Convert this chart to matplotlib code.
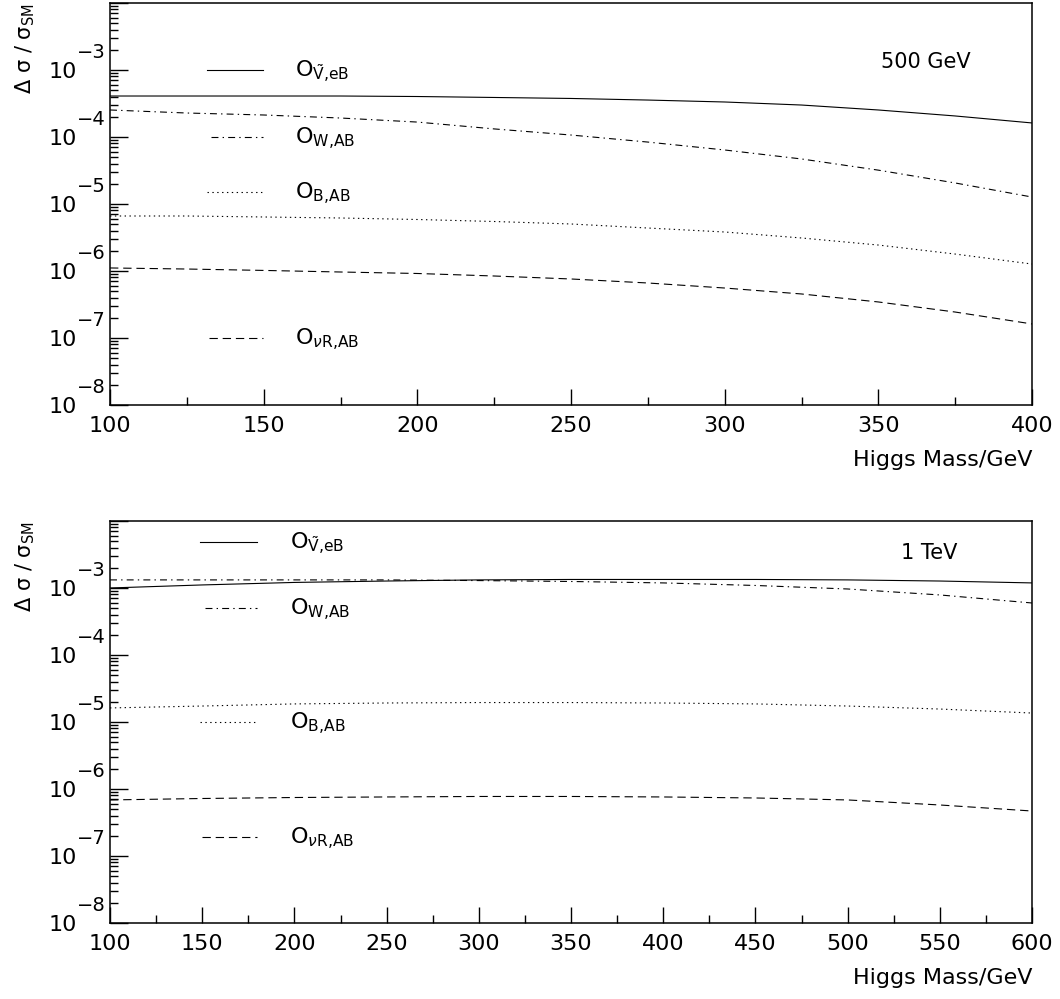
import matplotlib
matplotlib.use("Agg")
import matplotlib.pyplot as plt
from matplotlib.ticker import LogLocator, NullFormatter, FixedLocator

plt.rcParams['font.family'] = ['DejaVu Sans']
plt.rcParams['mathtext.fontset'] = 'dejavusans'
plt.rcParams['lines.scale_dashes'] = False

# --- 500 GeV panel ---
mass_500 = [100, 125, 150, 175, 200, 225, 250, 275, 300, 325, 350, 375, 400]
v_eb_500 = [4.09e-4, 4.09e-4, 4.09e-4, 4.09e-4, 4.02e-4, 3.89e-4, 3.76e-4,
            3.56e-4, 3.33e-4, 3.00e-4, 2.53e-4, 2.06e-4, 1.62e-4]
w_ab_500 = [2.53e-4, 2.28e-4, 2.13e-4, 1.92e-4, 1.67e-4, 1.32e-4, 1.07e-4,
            8.4e-5, 6.4e-5, 4.7e-5, 3.2e-5, 2.06e-5, 1.27e-5]
b_ab_500 = [6.62e-6, 6.62e-6, 6.4e-6, 6.18e-6, 5.87e-6, 5.48e-6, 5.03e-6,
            4.38e-6, 3.82e-6, 3.11e-6, 2.44e-6, 1.79e-6, 1.27e-6]
nr_ab_500 = [1.11e-6, 1.07e-6, 1.02e-6, 9.66e-7, 9.18e-7, 8.42e-7, 7.6e-7,
             6.62e-7, 5.57e-7, 4.54e-7, 3.45e-7, 2.44e-7, 1.62e-7]

# --- 1 TeV panel ---
mass_1000 = [100, 150, 200, 250, 300, 350, 400, 450, 500, 550, 600]
v_eb_1000 = [1.0e-3, 1.11e-3, 1.21e-3, 1.27e-3, 1.32e-3, 1.34e-3, 1.34e-3,
             1.34e-3, 1.32e-3, 1.27e-3, 1.19e-3]
w_ab_1000 = [1.32e-3, 1.32e-3, 1.32e-3, 1.32e-3, 1.29e-3, 1.25e-3, 1.19e-3,
             1.09e-3, 9.66e-4, 7.87e-4, 5.97e-4]
b_ab_1000 = [1.62e-5, 1.73e-5, 1.86e-5, 1.92e-5, 1.95e-5, 1.95e-5, 1.92e-5,
             1.86e-5, 1.73e-5, 1.56e-5, 1.36e-5]
nr_ab_1000 = [6.86e-7, 7.21e-7, 7.46e-7, 7.6e-7, 7.73e-7, 7.73e-7, 7.6e-7,
              7.34e-7, 6.86e-7, 5.77e-7, 4.69e-7]

labels = [r'$\mathrm{O}_{\tilde{\mathrm{V}}\mathrm{{,}eB}}$',
          r'$\mathrm{O}_{\mathrm{W{,}AB}}$',
          r'$\mathrm{O}_{\mathrm{B{,}AB}}$',
          r'$\mathrm{O}_{\nu\mathrm{R{,}AB}}$']
styles = ['-', (0, (5, 3, 1, 3)), (0, (1, 2.5)), (0, (6, 3.5))]
y_ticks = [1e-8, 1e-7, 1e-6, 1e-5, 1e-4, 1e-3, 1e-2]
y_exponents = ['\u22128', '\u22127', '\u22126', '\u22125', '\u22124', '\u22123', '']


def setup_axes(ax, xmin, xmax, xstep):
    ax.set_yscale('log')
    ax.set_xlim(xmin, xmax)
    ax.set_ylim(1e-8, 1e-2)
    ax.set_yticks(y_ticks)
    ax.yaxis.set_minor_locator(LogLocator(base=10, subs=range(2, 10), numticks=20))
    ax.yaxis.set_minor_formatter(NullFormatter())
    ax.xaxis.set_major_locator(FixedLocator(list(range(xmin, xmax + 1, xstep))))
    ax.xaxis.set_minor_locator(FixedLocator(list(range(xmin, xmax + 1, xstep // 2))))
    ax.tick_params(which='both', direction='in', top=False, right=False, labelsize=16)
    ax.tick_params(axis='y', labelleft=False)
    ax.tick_params(axis='x', which='major', length=11.5, width=1.0, pad=8)
    ax.tick_params(axis='x', which='minor', length=5.5, width=1.0)
    ax.tick_params(axis='y', which='major', length=13, width=1.0)
    ax.tick_params(axis='y', which='minor', length=6, width=1.0)
    for s in ax.spines.values():
        s.set_linewidth(1.1)
    # y tick labels drawn as "10" plus a raised exponent
    for val, ex in zip(y_ticks, y_exponents):
        if not ex:
            continue
        ax.annotate('10', xy=(-0.0358, val), xycoords=('axes fraction', 'data'),
                    xytext=(0, -1.5), textcoords='offset points',
                    ha='right', va='center', fontsize=16)
        ax.annotate(ex, xy=(-0.0358, val), xycoords=('axes fraction', 'data'),
                    xytext=(0, 12.5), textcoords='offset points',
                    ha='left', va='center', fontsize=14)
    ax.text(1.0, -0.137, 'Higgs Mass/GeV', transform=ax.transAxes,
            ha='right', va='center', fontsize=16)
    ax.text(-0.092, 1.0, r'$\mathrm{\Delta\ \sigma\ /\ \sigma_{SM}}$', transform=ax.transAxes,
            rotation=90, ha='center', va='top', fontsize=15)


def draw_legend(ax, keys, text_x):
    # keys: (x0, x1, y) in axes fraction for each operator
    for (x0, x1, y), lab, ls in zip(keys, labels, styles):
        ax.plot([x0, x1], [y, y], transform=ax.transAxes, color='black',
                linestyle=ls, linewidth=0.8)
        ax.text(text_x, y - 0.019, lab, transform=ax.transAxes,
                ha='left', va='baseline', fontsize=16)


fig = plt.figure(figsize=(10.6, 9.99), dpi=100)

ax1 = fig.add_axes([0.1038, 0.5946, 0.8698, 0.4024])
for yv, ls in zip([v_eb_500, w_ab_500, b_ab_500, nr_ab_500], styles):
    ax1.plot(mass_500, yv, color='black', linestyle=ls, linewidth=0.8)
setup_axes(ax1, 100, 400, 50)
draw_legend(ax1, [(0.105, 0.166, 0.833), (0.110, 0.166, 0.667),
                  (0.105, 0.166, 0.530), (0.107, 0.166, 0.167)], 0.2007)
ax1.text(0.885, 0.853, '500 GeV', transform=ax1.transAxes,
         ha='center', va='center', fontsize=15)

ax2 = fig.add_axes([0.1038, 0.0761, 0.8698, 0.4024])
for yv, ls in zip([v_eb_1000, w_ab_1000, b_ab_1000, nr_ab_1000], styles):
    ax2.plot(mass_1000, yv, color='black', linestyle=ls, linewidth=0.8)
setup_axes(ax2, 100, 600, 50)
ax2.xaxis.set_minor_locator(FixedLocator(list(range(125, 600, 50))))
draw_legend(ax2, [(0.098, 0.159, 0.948), (0.103, 0.159, 0.784),
                  (0.098, 0.159, 0.500), (0.100, 0.159, 0.214)], 0.195)
ax2.text(0.889, 0.920, '1 TeV', transform=ax2.transAxes,
         ha='center', va='center', fontsize=15)

fig.savefig('out.png', dpi=100)
